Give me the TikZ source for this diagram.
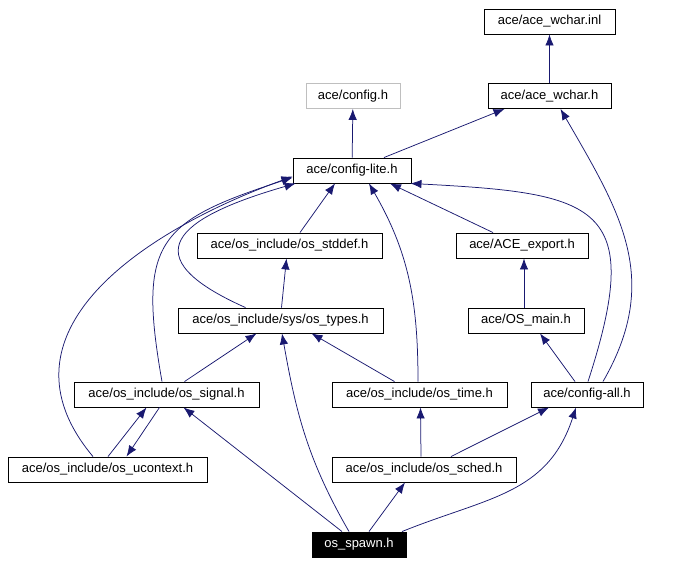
\documentclass[tikz,border=0pt]{standalone}
\usepackage{fontspec}
\setmainfont{Liberation Sans}
\usepackage{tikz}
\usetikzlibrary{arrows.meta}
\usetikzlibrary{positioning}
\definecolor{incblue}{RGB}{25,25,112}
\definecolor{extgray}{RGB}{191,191,191}
\tikzset{>={Latex[length=11pt,width=8.5pt]}}
\tikzstyle{hdr} = [rectangle, draw=black, line width=0.9pt, inner sep=0, minimum height=25pt, font=\fontsize{13}{15}\selectfont]
\tikzstyle{extern} = [hdr, draw=extgray]
\tikzstyle{root} = [hdr, fill=black, text=white]
\tikzstyle{inc} = [->, draw=incblue, line width=0.75pt]

\begin{document}
\begin{tikzpicture}[x=1pt, y=-1pt]
\useasboundingbox (0, 0) rectangle (694, 564);
\node [hdr, minimum width=131] (winl) at (549.5, 21.5) {ace/ace\_wchar.inl};
\node [hdr, minimum width=123] (wch) at (549.5, 96) {ace/ace\_wchar.h};
\node [extern, minimum width=94] (cfg) at (353, 96) {ace/config.h};
\node [hdr, minimum width=118] (lite) at (352, 170.5) {ace/config-lite.h};
\node [hdr, minimum width=185] (stddef) at (289.5, 245.5) {ace/os\_include/os\_stddef.h};
\node [hdr, minimum width=132] (export) at (522, 245.5) {ace/ACE\_export.h};
\node [hdr, minimum width=205] (types) at (280.5, 320.5) {ace/os\_include/sys/os\_types.h};
\node [hdr, minimum width=116] (osmain) at (526, 320.5) {ace/OS\_main.h};
\node [hdr, minimum width=185] (signal) at (166.5, 394.5) {ace/os\_include/os\_signal.h};
\node [hdr, minimum width=175] (time) at (419.5, 394.5) {ace/os\_include/os\_time.h};
\node [hdr, minimum width=112] (all) at (587, 394.5) {ace/config-all.h};
\node [hdr, minimum width=199] (uctx) at (107.5, 469.5) {ace/os\_include/os\_ucontext.h};
\node [hdr, minimum width=184] (sched) at (424, 469.5) {ace/os\_include/os\_sched.h};
\node [root, minimum width=94] (spawn) at (359, 544.5) {os\_spawn.h};
% top part
\draw [inc] (wch) to (winl);
\draw [inc] (lite) to (cfg);
\draw [inc] ([xshift=32pt]lite.north) to ([xshift=-45pt]wch.south);
\draw [inc] ([xshift=16pt]all.north) to[out=60, in=-60, looseness=1.1] ([xshift=11pt]wch.south);
\draw [inc] ([xshift=1pt]all.north) to[out=72, in=-3, looseness=1.8] ([xshift=-1pt]lite.south east);
\draw [inc] ([xshift=-29pt]export.north) to ([xshift=38pt]lite.south);
\draw [inc] ([xshift=-1.5pt]time.north) to[out=90, in=-60] ([xshift=17pt]lite.south);
\draw [inc] ([xshift=10.5pt]stddef.north) to ([xshift=-17pt]lite.south);
\draw [inc] ([xshift=-35pt]types.north) to[out=156, in=-164, looseness=2.4] ([xshift=3pt]lite.south west);
\draw [inc] ([xshift=-4.5pt]signal.north) to[out=100, in=-162, looseness=1.5] ([yshift=-7pt]lite.west);
\draw [inc] ([xshift=-14.5pt]uctx.north) to[out=130, in=-160, looseness=1.2] ([yshift=-6pt]lite.west);
% middle part
\draw [inc] ([xshift=1pt]types.north) to ([xshift=-3pt]stddef.south);
\draw [inc] ([xshift=-2pt]osmain.north) to ([xshift=2pt]export.south);
\draw [inc] ([xshift=-12pt]all.north) to ([xshift=14pt]osmain.south);
\draw [inc] ([xshift=18pt]signal.north) to ([xshift=-24pt]types.south);
\draw [inc] ([xshift=-25pt]time.north) to ([xshift=31pt]types.south);
% bottom part
\draw [inc] ([xshift=0.5pt]uctx.north) to ([xshift=-20pt]signal.south);
\draw [inc] ([xshift=-7pt]signal.south) to ([xshift=19pt]uctx.north);
\draw [inc] ([xshift=-3pt]sched.north) to ([xshift=1pt]time.south);
\draw [inc] ([xshift=27pt]sched.north) to ([xshift=-38pt]all.south);
\draw [inc] ([xshift=-17pt]spawn.north) to ([xshift=17pt]signal.south);
\draw [inc] ([xshift=-10pt]spawn.north) to[out=120, in=-80] ([xshift=1.5pt]types.south);
\draw [inc] ([xshift=10pt]spawn.north) to ([xshift=-19pt]sched.south);
\draw [inc] ([xshift=43pt]spawn.north) to[out=22, in=-108, looseness=1.1] ([xshift=-11pt]all.south);
\end{tikzpicture}
\end{document}
